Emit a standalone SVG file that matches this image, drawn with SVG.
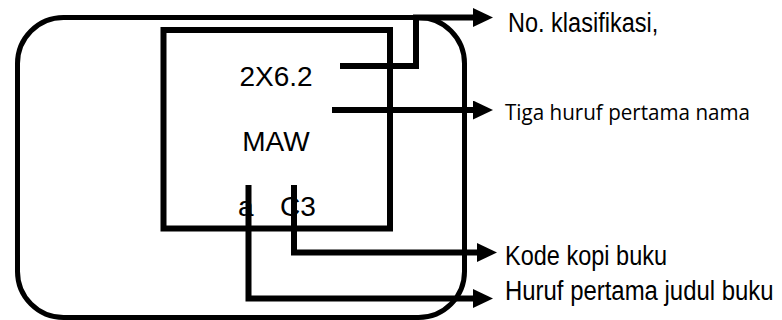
<svg xmlns="http://www.w3.org/2000/svg" width="782" height="320" viewBox="0 0 782 320">
<style>
.box{fill:none;stroke:#000}
.con{fill:none;stroke:#000;stroke-width:6;stroke-linejoin:miter}
.mid{font-family:"Liberation Sans",Arial,sans-serif;font-size:28px;fill:#000}
.lbl{font-family:"Liberation Sans",Arial,sans-serif;font-size:28px;fill:#000}
.lbl2{font-family:"Open Sans","Noto Sans",sans-serif;font-size:22px;fill:#000}
</style>
<defs>
<marker id="ah" viewBox="0 0 20 19" refX="0" refY="9.5" markerWidth="20" markerHeight="19" markerUnits="userSpaceOnUse" orient="auto">
<path d="M0,0 L20,9.5 L0,19 Z" fill="#000"/>
</marker>
</defs>
<g id="outer">
<rect class="box" x="17.5" y="17.5" width="447" height="300" rx="46" ry="46" stroke-width="5"/>
</g>
<g id="label-card">
<rect class="box" x="163.5" y="30" width="226.5" height="198.5" stroke-width="6"/>
<text class="mid" x="276" y="86" text-anchor="middle">2X6.2</text>
<text class="mid" x="276" y="151" text-anchor="middle">MAW</text>
<text class="mid" y="216"><tspan x="238">a</tspan><tspan x="280">C3</tspan></text>
</g>
<g id="connectors">
<path class="con" d="M340,66 H416 V17.5 H473" marker-end="url(#ah)"/>
<path class="con" d="M332,110 H473" marker-end="url(#ah)"/>
<path class="con" d="M294,185 V252.5 H477" marker-end="url(#ah)"/>
<path class="con" d="M248.5,185 V298.5 H473" marker-end="url(#ah)"/>
</g>
<g id="labels">
<text class="lbl" transform="translate(508,32) scale(0.84,1)" x="0" y="0">No. klasifikasi,</text>
<text class="lbl2" x="505" y="120" textLength="245" lengthAdjust="spacingAndGlyphs">Tiga huruf pertama nama</text>
<text class="lbl" transform="translate(505,265) scale(0.84,1)" x="0" y="0">Kode kopi buku</text>
<text class="lbl" transform="translate(505,300) scale(0.855,1)" x="0" y="0">Huruf pertama judul buku</text>
</g>
</svg>
